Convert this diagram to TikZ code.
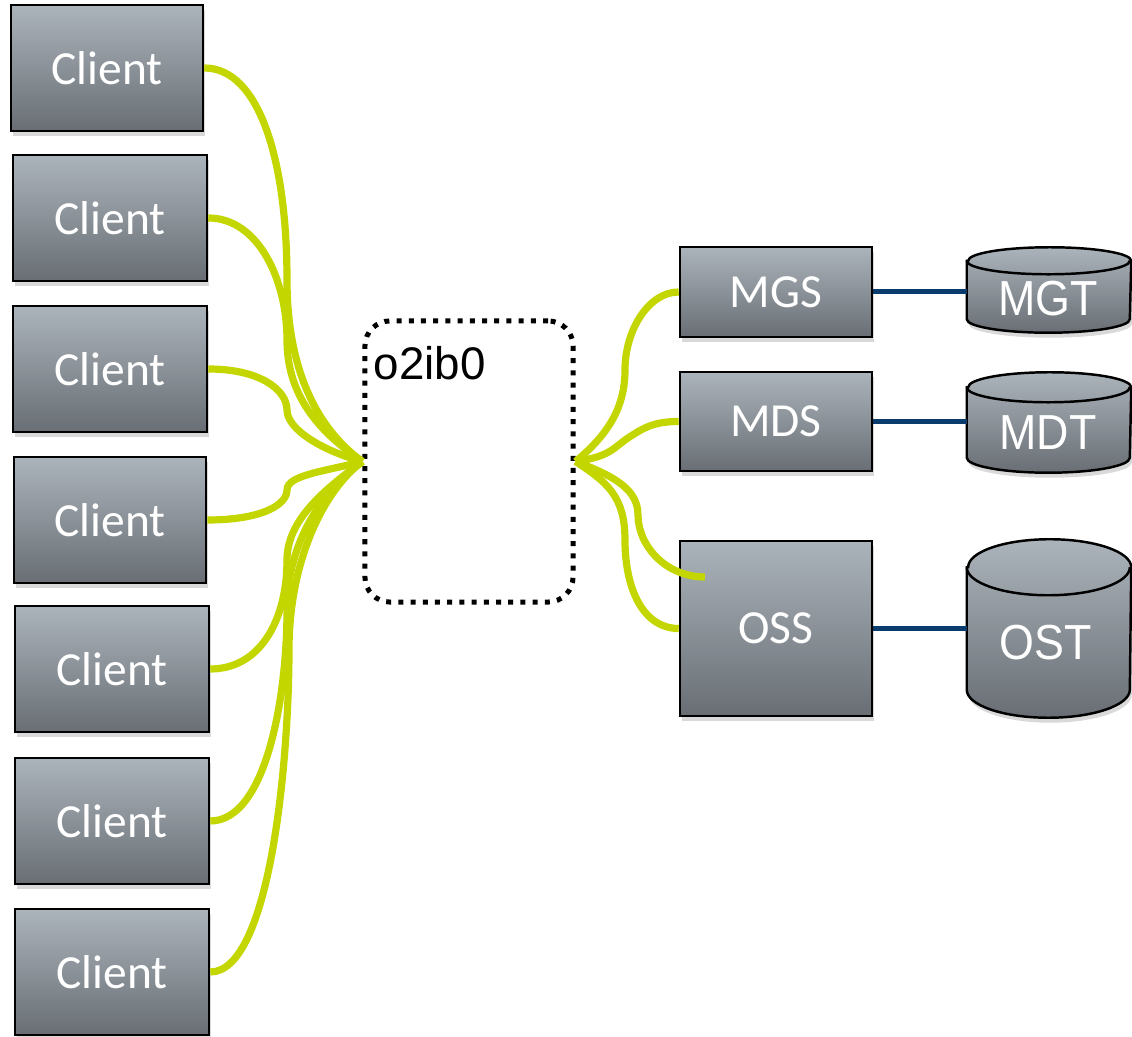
\documentclass[tikz,border=0pt]{standalone}
\usepackage{fontspec}
\setmainfont{Liberation Sans}
\newfontfamily\calibrifont{Carlito}
\newfontfamily\diskfont[FakeStretch=0.91]{Liberation Sans}
\usetikzlibrary{shadows}
\definecolor{boxtop}{RGB}{172,180,187}
\definecolor{boxbottom}{RGB}{104,110,116}
\definecolor{linkgreen}{RGB}{196,214,0}
\definecolor{wireblue}{RGB}{10,61,110}

\begin{document}
\begin{tikzpicture}[x=0.01cm, y=-0.01cm,
    server/.style={draw=black, line width=0.7pt, top color=boxtop, bottom color=boxbottom, minimum width=1.94cm, minimum height=1.26cm, text=white, font=\calibrifont\fontsize{13.5}{16}\selectfont, drop shadow={opacity=0.3, shadow xshift=0.02cm, shadow yshift=-0.05cm}},
    diskbox/.style={inner sep=0pt, minimum width=1.63cm},
    disk/.style={draw=black, line width=0.7pt, top color=boxtop, bottom color=boxbottom, drop shadow={opacity=0.3, shadow xshift=0.02cm, shadow yshift=-0.05cm}},
    disktext/.style={text=white, inner sep=0pt, font=\diskfont\fontsize{14}{16}\selectfont},
    lnet/.style={draw=black, line width=0.05cm, dash pattern=on 0.05cm off 0.072cm, rounded corners=0.25cm, minimum width=2.08cm, minimum height=2.81cm},
    link/.style={linkgreen, line width=0.072cm},
    wire/.style={wireblue, line width=0.05cm}
]
    \useasboundingbox (0,0) rectangle (1132,1037);
    % clients
    \node[server, minimum width=1.92cm] (c1) at (107,68) {Client};
    \node[server] (c2) at (110,218) {Client};
    \node[server] (c3) at (110,369) {Client};
    \node[server, minimum width=1.92cm] (c4) at (110,520) {Client};
    \node[server] (c5) at (112,669) {Client};
    \node[server] (c6) at (112,821) {Client};
    \node[server] (c7) at (112,972) {Client};
    % network
    \node[lnet] (o2ib) at (469,461.5) {};
    \node[font=\fontsize{13}{15}\selectfont, anchor=base west, inner sep=0pt] (o2iblabel) at (373,380) {o2ib0};
    % servers
    \node[server, minimum width=1.92cm, minimum height=0.9cm] (mgs) at (776,292) {MGS};
    \node[server, minimum width=1.92cm, minimum height=0.99cm] (mds) at (776,421.5) {MDS};
    \node[server, minimum width=1.92cm, minimum height=1.75cm] (oss) at (776,628.5) {OSS};
    % targets
    \node[diskbox, minimum height=0.84cm] (mgt) at (1049,290) {};
    \node[diskbox, minimum height=0.99cm] (mdt) at (1049,422.5) {};
    \node[diskbox, minimum height=1.77cm] (ost) at (1049,628.5) {};
    \foreach \d/\r in {mgt/1.35mm, mdt/1.5mm, ost/2.8mm} {
        \draw[disk] ([yshift=-\r]\d.north west) -- ([yshift=\r]\d.south west)
            arc[start angle=180, end angle=360, x radius=8.15mm, y radius=\r]
            -- ([yshift=-\r]\d.north east)
            arc[start angle=0, end angle=180, x radius=8.15mm, y radius=\r] -- cycle;
        \draw[line width=0.7pt] ([yshift=-\r]\d.north west)
            arc[start angle=180, end angle=360, x radius=8.15mm, y radius=\r];
    }
    \node[disktext] (mgtlabel) at (1048,298.5) {MGT};
    \node[disktext] (mdtlabel) at (1048,433) {MDT};
    \node[disktext] (ostlabel) at (1046,642.5) {OST};
    \draw[wire] (mgs.east) -- (mgs.east -| mgt.west);
    \draw[wire] (mds.east) -- (mds.east -| mdt.west);
    \draw[wire] (oss.east) -- (oss.east -| ost.west);
    % links
    \draw[link] (c1.east) .. controls +(55,0) and +(0,-120) .. (287,280) .. controls +(0,100) and +(-38,-27) .. (o2ib.west);
    \draw[link] (c2.east) .. controls +(50,0) and +(0,-60) .. (287,340) .. controls +(0,60) and +(-38,-26) .. (o2ib.west);
    \draw[link] (c3.east) .. controls +(52,0) and +(0,-20) .. (287,410) .. controls +(0,20) and +(-38,-10) .. (o2ib.west);
    \draw[link] (c4.east) .. controls +(54,0) and +(0,15) .. (287,490) .. controls +(0,-15) and +(-38,10) .. (o2ib.west);
    \draw[link] (c5.east) .. controls +(50,0) and +(0,60) .. (287,560) .. controls +(0,-40) and +(-38,28) .. (o2ib.west);
    \draw[link] (c6.east) .. controls +(55,0) and +(0,90) .. (287,610) .. controls +(0,-70) and +(-38,28) .. (o2ib.west);
    \draw[link] (c7.east) .. controls +(60,0) and +(0,110) .. (289,650) .. controls +(0,-90) and +(-38,28) .. (o2ib.west);
    \coordinate (ossend) at (705,577);
    \draw[link] (o2ib.east) .. controls +(30,-25) and +(0,40) .. (625,370) .. controls +(0,-40) and +(-30,0) .. (mgs.west);
    \draw[link] (o2ib.east) .. controls +(35,-5) and +(-15,10) .. (628,438) .. controls +(15,-10) and +(-25,0) .. (mds.west);
    \draw[link] (o2ib.east) .. controls +(40,15) and +(0,-25) .. (638,515) .. controls +(0,30) and +(-40,0) .. (ossend);
    \draw[link] (o2ib.east) .. controls +(30,20) and +(0,-45) .. (625,540) .. controls +(0,50) and +(-35,0) .. (oss.west);
\end{tikzpicture}
\end{document}
